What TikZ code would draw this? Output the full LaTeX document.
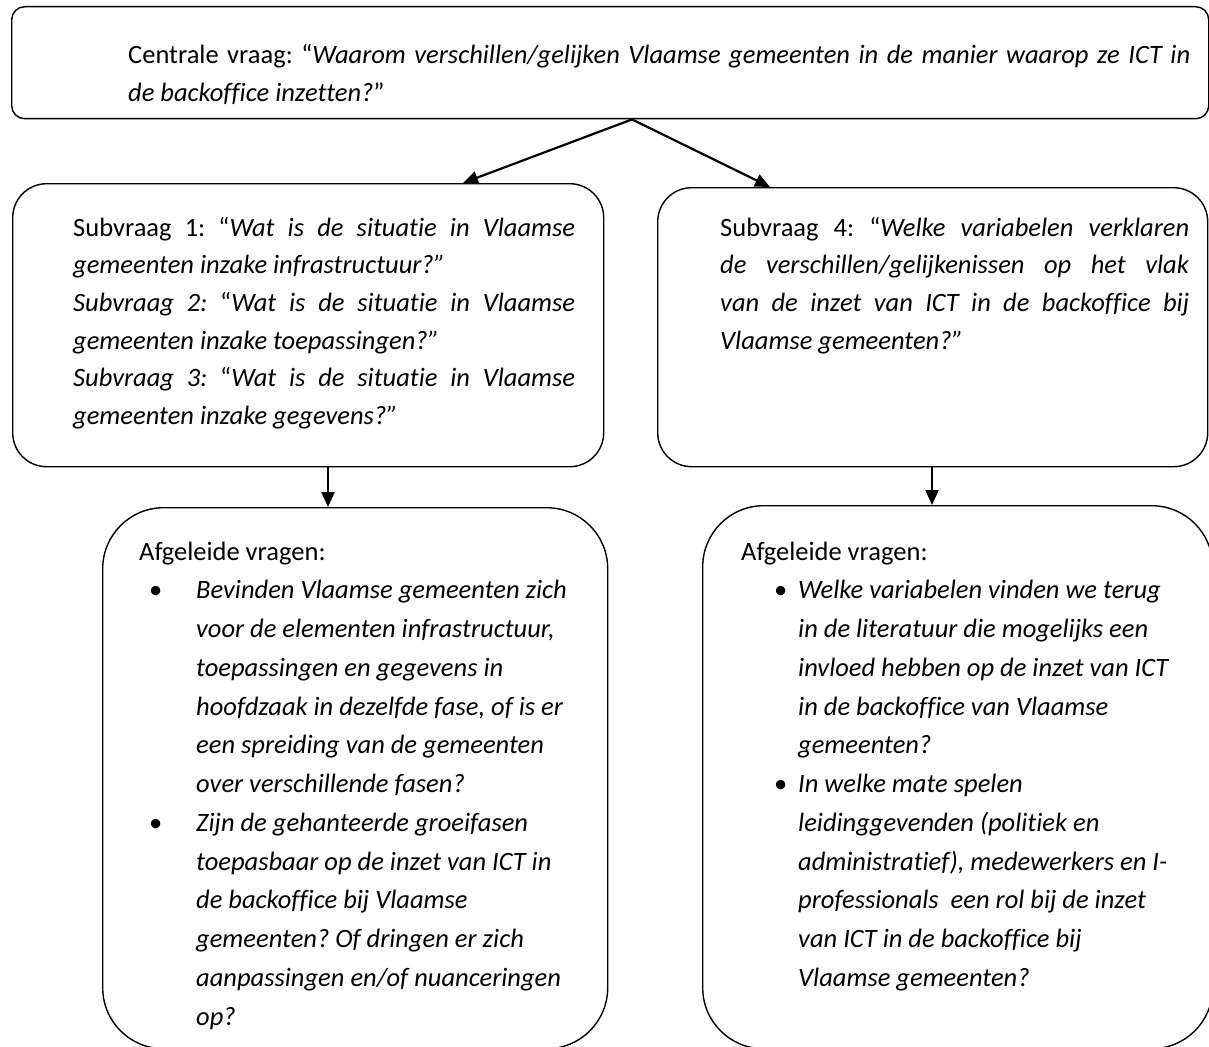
\documentclass[tikz,border=0pt]{standalone}
\usepackage{fontspec}
\setmainfont{Carlito}[Ligatures={NoCommon}]
\usetikzlibrary{arrows.meta,calc}
\frenchspacing

% one justified line of a paragraph
\newcommand{\jline}[1]{\makebox[\linewidth][s]{#1}}
% list item layout: bullet offset, text indent
\newcommand{\itembullet}[1][10pt]{\makebox[57pt][l]{\hspace*{#1}\textbullet}}
\newcommand{\itemcont}{\hspace*{57pt}}

\begin{document}
\begin{tikzpicture}[x=1pt,y=-1pt,
  box/.style={draw, line width=1.4pt, rounded corners=#1, inner sep=0pt, anchor=north west},
  link/.style={line width=2.2pt, -{Triangle[length=15pt,width=13pt]}},
  txt/.style={anchor=north west, inner sep=0pt, font=\fontsize{26.5}{#1}\selectfont},
  txt/.default=37.5
]
\useasboundingbox (0,0) rectangle (1209,1046);
\clip (0,0) rectangle (1209,1046);

% boxes
\node[box=13pt, minimum width=1197pt, minimum height=112pt] (central) at (11,6) {};
\node[box=34pt, minimum width=591pt, minimum height=283pt] (sub13) at (12,183) {};
\node[box=34pt, minimum width=550pt, minimum height=279pt] (sub4) at (657,187) {};
\node[box=61pt, minimum width=505pt, minimum height=541pt] (derivL) at (102,507) {};
\node[box=61pt, minimum width=510pt, minimum height=543pt] (derivR) at (702,505) {};

% connectors
\coordinate (apex) at (632,0 |- central.south);
\draw[link] (apex) -- (463,0 |- sub13.north);
\draw[link] (apex) -- (770,0 |- sub4.north);
\draw[link] (328,0 |- sub13.south) -- (328,0 |- derivL.north);
\draw[link] (932,0 |- sub4.south) -- (932,0 |- derivR.north);

% texts
\node[txt] (tcentral) at (128,37.5) {\parbox[t]{1062pt}{\strut
  \jline{Centrale vraag: “\textit{Waarom verschillen/gelijken Vlaamse gemeenten in de manier waarop ze ICT in}}\\
  \textit{de backoffice inzetten?}”}};

\node[txt=37.7] (tsub13) at (73,209.6) {\parbox[t]{502pt}{\strut
  \jline{Subvraag 1: “\textit{Wat is de situatie in Vlaamse}}\\
  \textit{gemeenten inzake infrastructuur?”}\\
  \jline{\textit{Subvraag 2:} “\textit{Wat is de situatie in Vlaamse}}\\
  \textit{gemeenten inzake toepassingen?”}\\
  \jline{\textit{Subvraag 3:} “\textit{Wat is de situatie in Vlaamse}}\\
  \textit{gemeenten inzake gegevens?”}}};

\node[txt=37.7] (tsub4) at (720,209.6) {\parbox[t]{469pt}{\strut
  \jline{Subvraag 4: “\textit{Welke variabelen verklaren}}\\
  \jline{\textit{de verschillen/gelijkenissen op het vlak}}\\
  \jline{\textit{van de inzet van ICT in de backoffice bij}}\\
  \textit{Vlaamse gemeenten?”}}};

\node[txt=38.75] (tderivL) at (139,532.9) {\parbox[t]{460pt}{\strut
  Afgeleide vragen:\\
  \itembullet\textit{Bevinden Vlaamse gemeenten zich}\\
  \itemcont\textit{voor de elementen infrastructuur,}\\
  \itemcont\textit{toepassingen en gegevens in}\\
  \itemcont\textit{hoofdzaak in dezelfde fase, of is er}\\
  \itemcont\textit{een spreiding van de gemeenten}\\
  \itemcont\textit{over verschillende fasen?}\\
  \itembullet\textit{Zijn de gehanteerde groeifasen}\\
  \itemcont\textit{toepasbaar op de inzet van ICT in}\\
  \itemcont\textit{de backoffice bij Vlaamse}\\
  \itemcont\textit{gemeenten? Of dringen er zich}\\
  \itemcont\textit{aanpassingen en/of nuanceringen}\\
  \itemcont\textit{op?}}};

\node[txt=38.75] (tderivR) at (741,532.9) {\parbox[t]{460pt}{\strut
  Afgeleide vragen:\\
  \itembullet[33pt]\textit{Welke variabelen vinden we terug}\\
  \itemcont\textit{in de literatuur die mogelijks een}\\
  \itemcont\textit{invloed hebben op de inzet van ICT}\\
  \itemcont\textit{in de backoffice van Vlaamse}\\
  \itemcont\textit{gemeenten?}\\
  \itembullet[33pt]\textit{In welke mate spelen}\\
  \itemcont\textit{leidinggevenden (politiek en}\\
  \itemcont\textit{administratief), medewerkers en I-}\\
  \itemcont\textit{professionals\ \ een rol bij de inzet}\\
  \itemcont\textit{van ICT in de backoffice bij}\\
  \itemcont\textit{Vlaamse gemeenten?}}};
\end{tikzpicture}
\end{document}
